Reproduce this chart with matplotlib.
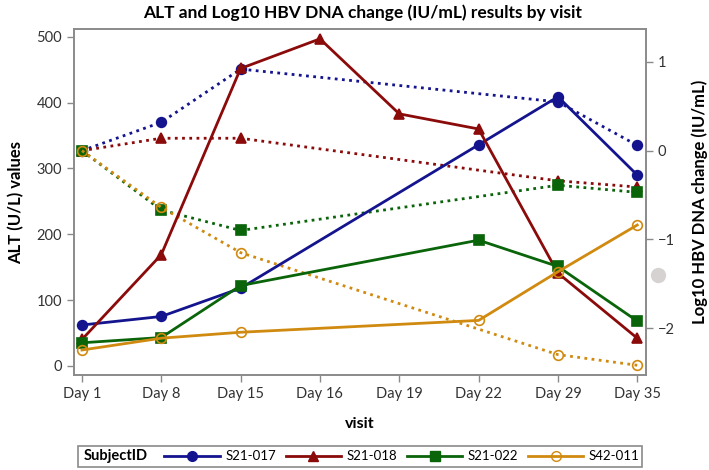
import numpy as np
import matplotlib.pyplot as plt
from matplotlib.lines import Line2D
from matplotlib.patches import Rectangle

plt.rcParams['font.family'] = ['Lato', 'DejaVu Sans']

VISITS = ["Day 1", "Day 8", "Day 15", "Day 16", "Day 19", "Day 22", "Day 29", "Day 35"]
SUBJECTS = ["S21-017", "S21-018", "S21-022", "S42-011"]

# ALT (U/L), solid lines, left axis -- None where no visit
alt_017 = [62, 75, 118, None, None, 336, 409, 290]
alt_018 = [40, 169, 452, 497, 383, 360, 141, 42]
alt_022 = [35, 43, 122, None, None, 191, 151, 68]
alt_011 = [24, 42, 51, None, None, 69, 143, 214]

# Log10 HBV DNA change (IU/mL), dotted lines, right axis
dna_017 = [0.0, 0.32, 0.92, None, None, None, 0.55, 0.06]
dna_018 = [0.0, 0.14, 0.14, None, None, None, -0.34, -0.41]
dna_022 = [0.0, -0.67, -0.90, None, None, None, -0.39, -0.47]
dna_011 = [0.0, -0.64, -1.15, None, None, None, -2.30, -2.42]

COLORS = ["#14148f", "#8b0a0a", "#0a640a", "#d08a10"]
MARKERS = ["o", "^", "s", "o"]
FILLED = [True, True, True, False]

fig = plt.figure(figsize=(7.09, 4.70), dpi=100)
ax = fig.add_axes([0.1044, 0.2021, 0.8067, 0.7362])
ax2 = ax.twinx()

x = np.arange(len(VISITS))


def draw(axis, vals, color, marker, filled, ls):
    xs = [i for i, v in zip(x, vals) if v is not None]
    ys = [v for v in vals if v is not None]
    axis.plot(xs, ys, color=color, lw=2, ls=ls, marker=marker, ms=7 if marker != "^" else 7.5,
              mfc=color if filled else "none", mec=color, mew=1.2, clip_on=False)


dotted = (0, (1, 1.6))
for vals, c, m, f in zip([dna_017, dna_018, dna_022, dna_011], COLORS, MARKERS, FILLED):
    draw(ax2, vals, c, m, f, dotted)
for vals, c, m, f in zip([alt_017, alt_018, alt_022, alt_011], COLORS, MARKERS, FILLED):
    draw(ax, vals, c, m, f, "-")

# put the ALT lines above the dotted ones
ax.set_zorder(ax2.get_zorder() + 1)
ax.patch.set_visible(False)

ax.set_xlim(-0.1, 7.11)
ax.set_ylim(-14, 512)
ax2.set_ylim(-2.53, 1.372)
ax.set_xticks(x)
ax.set_xticklabels(VISITS)
ax.set_yticks([0, 100, 200, 300, 400, 500])
ax2.set_yticks([-2, -1, 0, 1])

for a in (ax, ax2):
    for s in a.spines.values():
        s.set_color("#8a8a8a")
        s.set_linewidth(1.2)
    a.tick_params(colors="#8a8a8a", labelcolor="#333333", labelsize=10.5, length=5, width=1)

ax.set_xlabel("visit", fontsize=11.5, fontweight="bold", labelpad=12)
ax.set_ylabel("ALT (U/L) values", fontsize=12, fontweight="bold", labelpad=9)
ax2.set_ylabel("Log10 HBV DNA change (IU/mL)", fontsize=12, fontweight="bold", labelpad=12)
fig.suptitle("ALT and Log10 HBV DNA change (IU/mL) results by visit", fontsize=12.5,
             fontweight="bold", x=0.512, y=0.99)

# legend
fig.patches.append(Rectangle((0.110, 0.0064), 0.795, 0.0447, transform=fig.transFigure,
                             fill=False, ec="#8a8a8a", lw=1.2))
fig.text(0.118, 0.029, "SubjectID", fontsize=10.5, fontweight="bold", va="center", ha="left")
handles = [Line2D([], [], color=c, lw=2, marker=m, ms=7, mfc=c if f else "none", mec=c)
           for c, m, f in zip(COLORS, MARKERS, FILLED)]
fig.legend(handles, SUBJECTS, loc="center left", bbox_to_anchor=(0.232, 0.029), ncol=4,
           frameon=False, borderpad=0, borderaxespad=0, handlelength=4.2, handletextpad=0.4,
           columnspacing=0.75, fontsize=9.5)

# grey dot at the right edge
fig.add_artist(Line2D([658 / 709], [(470 - 275) / 470], transform=fig.transFigure,
                      marker="o", ms=10, color="#d6d2d2", ls="none"))

fig.savefig("out.png", dpi=100)
